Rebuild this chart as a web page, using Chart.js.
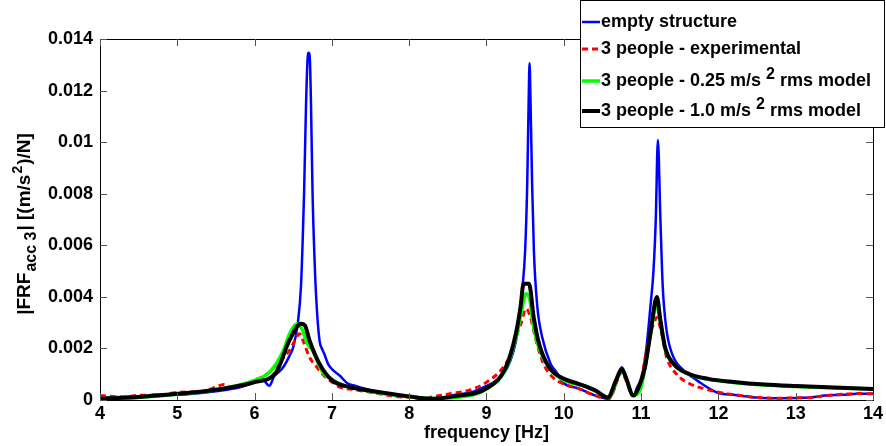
<!DOCTYPE html>
<html><head><meta charset="utf-8">
<script src="https://cdn.jsdelivr.net/npm/chart.js@4/dist/chart.umd.min.js"></script>
<style>html,body{margin:0;padding:0;background:#fff}</style>
</head><body>
<canvas id="c" width="886" height="446"></canvas>
<script>
// ---------- DATA ----------
const xTickLabels = ['4','5','6','7','8','9','10','11','12','13','14'];
const yTickLabels = ['0','0.002','0.004','0.006','0.008','0.01','0.012','0.014'];

const emptyFreq = [4.0,4.3,4.6,4.7,5.0,5.3,5.6,5.8,6.0,6.1,6.19,6.25,6.3,6.37,6.45,6.5,6.56,6.6,6.62,6.64,6.665,6.685,6.70,6.715,6.73,6.75,6.775,6.80,6.84,6.87,6.9,6.95,7.0,7.1,7.2,7.3,7.5,7.8,8.0,8.2,8.4,8.6,8.8,9.0,9.1,9.2,9.27,9.35,9.4,9.46,9.5,9.527,9.545,9.557,9.57,9.59,9.613,9.655,9.72,9.83,9.9,10.0,10.2,10.4,10.58,10.65,10.7,10.75,10.8,10.85,10.9,10.95,11.01,11.07,11.12,11.16,11.19,11.217,11.25,11.28,11.325,11.4,11.55,11.68,11.8,12.0,12.2,12.43,12.7,13.0,13.2,13.38,13.6,13.8,14.0];
const emptyVal  = [0.0001,0.00012,0.00015,0.0002,0.0002,0.00027,0.00038,0.00048,0.00068,0.0008,0.00055,0.0009,0.00105,0.00127,0.0017,0.00205,0.003,0.0044,0.006,0.008,0.0114,0.0132,0.01347,0.0132,0.0114,0.008,0.0055,0.0038,0.0023,0.002,0.0018,0.0014,0.0012,0.00095,0.00065,0.00055,0.00038,0.00022,0.00012,0.00005,0.00008,0.0002,0.0003,0.00055,0.0007,0.00095,0.00125,0.0019,0.0026,0.0042,0.0058,0.0084,0.0115,0.01306,0.0115,0.0084,0.0058,0.0037,0.00244,0.0014,0.0011,0.00065,0.00044,0.00018,0.00005,0.0004,0.0009,0.00127,0.0009,0.0004,0.00017,0.0005,0.0009,0.00205,0.0036,0.005,0.007,0.01008,0.007,0.0044,0.0028,0.0018,0.00115,0.00085,0.0006,0.00027,0.0002,0.00011,0.00007,0.00008,0.0001,0.00017,0.0002,0.00024,0.00024];

const expFreq = [4.0,4.3,4.5,4.8,5.0,5.3,5.5,5.6,5.7,5.9,6.0,6.1,6.2,6.3,6.45,6.52,6.58,6.64,6.71,6.8,6.88,7.0,7.1,7.3,7.5,7.8,8.0,8.2,8.4,8.56,8.8,9.0,9.2,9.3,9.38,9.45,9.51,9.56,9.63,9.7,9.76,9.85,9.94,10.19,10.41,10.58,10.7,10.75,10.8,10.9,11.0,11.07,11.12,11.17,11.2,11.25,11.33,11.46,11.63,11.8,12.0,12.3,12.5,12.77,13.0,13.2,13.4,13.6,13.8,14.0];
const expVal  = [0.00017,0.00012,0.00018,0.0002,0.0003,0.00032,0.0005,0.0006,0.0005,0.0006,0.00076,0.0009,0.0011,0.0014,0.00192,0.0023,0.00257,0.0022,0.00166,0.0013,0.001,0.0007,0.0005,0.0004,0.0003,0.00015,0.0001,0.00008,0.00018,0.00026,0.0004,0.00069,0.0012,0.0017,0.00244,0.003,0.00354,0.0033,0.00244,0.0017,0.00127,0.0009,0.0007,0.00044,0.00017,0.00005,0.0008,0.0011,0.0008,0.00017,0.0008,0.0019,0.0026,0.003,0.0032,0.0028,0.00166,0.001,0.00063,0.00045,0.0003,0.00017,0.0001,0.00007,0.00008,0.0001,0.00017,0.00022,0.00025,0.00024];

const m025Freq = [4.0,4.5,5.0,5.5,6.0,6.2,6.37,6.45,6.52,6.56,6.62,6.68,6.75,6.88,7.0,7.1,7.3,7.5,8.0,8.3,8.6,9.0,9.25,9.38,9.45,9.51,9.56,9.6,9.68,9.81,9.98,10.32,10.58,10.7,10.75,10.8,10.9,11.0,11.05,11.12,11.2,11.25,11.31,11.42,11.63,11.87,12.2,12.6,13.0,13.5,14.0];
const m025Val  = [0.00005,0.0001,0.00022,0.0004,0.00076,0.0011,0.0019,0.00255,0.0029,0.00296,0.0027,0.0022,0.00192,0.00108,0.0008,0.00063,0.00045,0.00033,0.00013,0.00006,0.0001,0.00043,0.0012,0.0024,0.0034,0.00412,0.0039,0.003,0.002,0.00125,0.0008,0.0005,0.0001,0.0009,0.00118,0.0009,0.00018,0.0005,0.00125,0.0025,0.0037,0.003,0.002,0.0014,0.00098,0.0008,0.00068,0.00058,0.00052,0.00047,0.00043];

const m10Freq = [4.0,4.5,5.0,5.5,6.0,6.28,6.45,6.6,6.65,6.71,6.84,7.0,7.23,7.48,8.0,8.26,8.6,9.0,9.25,9.38,9.44,9.48,9.55,9.61,9.68,9.81,9.98,10.19,10.41,10.57,10.68,10.75,10.8,10.9,10.97,11.05,11.12,11.204,11.25,11.31,11.42,11.63,11.87,12.2,12.6,13.0,13.5,14.0];
const m10Val  = [0.00005,0.00012,0.00024,0.0004,0.00069,0.00108,0.00231,0.00296,0.0029,0.00231,0.0014,0.00077,0.0005,0.00037,0.00014,0.00005,0.00015,0.00045,0.00127,0.00257,0.0036,0.00451,0.00451,0.00322,0.00218,0.00127,0.00085,0.00063,0.00037,0.0001,0.0008,0.00121,0.0009,0.00017,0.0005,0.00127,0.00257,0.00399,0.00309,0.00205,0.0014,0.001,0.00082,0.0007,0.0006,0.00054,0.00048,0.00043];

const seriesLabels = ['empty structure','3 people - experimental','3 people - 0.25 m/s\u00B2 rms model','3 people - 1.0 m/s\u00B2 rms model'];
const yTitleParts = [['|FRF','n'],['acc 3','sub'],['| [(m/s','n'],['2','sup'],[')/N]','n']];
const xTitle = 'frequency [Hz]';

// ---------- BUILD ----------
const pts = (f, v) => f.map((x, i) => ({x: x, y: v[i]}));
const FONT = '"Liberation Sans", Arial, Helvetica, sans-serif';

const boxPlugin = {
  id: 'matlabBox',
  afterDatasetsDraw(chart) {
    const {ctx, chartArea: a, scales} = chart;
    ctx.save();
    ctx.strokeStyle = '#000'; ctx.lineWidth = 1;
    ctx.strokeRect(Math.round(a.left) + 0.5, Math.round(a.top) + 0.5, Math.round(a.right - a.left), Math.round(a.bottom - a.top));
    ctx.strokeStyle = '#555';
    const tl = 7;
    scales.x.ticks.forEach(t => {
      const px = Math.round(scales.x.getPixelForValue(t.value)) + 0.5;
      ctx.beginPath();
      ctx.moveTo(px, a.bottom); ctx.lineTo(px, a.bottom - tl);
      ctx.moveTo(px, a.top); ctx.lineTo(px, a.top + tl);
      ctx.stroke();
    });
    scales.y.ticks.forEach(t => {
      const py = Math.round(scales.y.getPixelForValue(t.value)) + 0.5;
      ctx.beginPath();
      ctx.moveTo(a.left, py); ctx.lineTo(a.left + tl, py);
      ctx.moveTo(a.right, py); ctx.lineTo(a.right - tl, py);
      ctx.stroke();
    });
    ctx.restore();
  }
};

const yTitlePlugin = {
  id: 'yTitle',
  afterDraw(chart) {
    const ctx = chart.ctx;
    const a = chart.chartArea;
    const fonts = {n: 'bold 19px ' + FONT, sub: 'bold 16px ' + FONT, sup: 'bold 14px ' + FONT};
    const shift = {n: 0, sub: 7, sup: -7};
    ctx.save();
    let total = 0;
    const widths = yTitleParts.map(p => { ctx.font = fonts[p[1]]; const w = ctx.measureText(p[0]).width; total += w + 1; return w; });
    const cy = (a.top + a.bottom) / 2 + 4;
    ctx.translate(25, cy);
    ctx.rotate(-Math.PI / 2);
    ctx.fillStyle = '#000';
    ctx.textBaseline = 'middle';
    ctx.textAlign = 'left';
    let x = -total / 2;
    yTitleParts.forEach((p, i) => {
      ctx.font = fonts[p[1]];
      ctx.fillText(p[0], x, shift[p[1]]);
      x += widths[i] + 1;
    });
    ctx.restore();
  }
};

const legendPlugin = {
  id: 'matlabLegend',
  afterDraw(chart) {
    const ctx = chart.ctx;
    const L = 580.5, T = 0.5, R = 884.5, B = 127.5;
    ctx.save();
    ctx.fillStyle = '#fff';
    ctx.fillRect(L, T, R - L, B - T);
    ctx.strokeStyle = '#000'; ctx.lineWidth = 1;
    ctx.strokeRect(L, T, R - L, B - T);
    const rows = [22, 49, 81, 111];
    chart.data.datasets.forEach((ds, i) => {
      const y = rows[i];
      ctx.strokeStyle = ds.borderColor;
      ctx.lineWidth = ds.borderWidth;
      ctx.setLineDash(ds.borderDash || []);
      ctx.beginPath(); ctx.moveTo(582, y); ctx.lineTo(600, y); ctx.stroke();
      ctx.setLineDash([]);
      ctx.fillStyle = '#000';
      ctx.textBaseline = 'middle';
      ctx.textAlign = 'left';
      const parts = ds.label.split('\u00B2');
      let x = 601;
      ctx.font = 'bold 18px ' + FONT;
      if (parts.length === 1) {
        ctx.fillText(parts[0], x, y);
      } else {
        const p0 = parts[0] + ' ';
        ctx.fillText(p0, x, y); x += ctx.measureText(p0).width;
        ctx.font = 'bold 16px ' + FONT;
        ctx.fillText('2', x, y - 6); x += ctx.measureText('2').width;
        ctx.font = 'bold 18px ' + FONT;
        ctx.fillText(' ' + parts[1].trim(), x, y);
      }
    });
    ctx.restore();
  }
};

new Chart(document.getElementById('c'), {
  type: 'line',
  data: {
    datasets: [
      {label: seriesLabels[0], data: pts(emptyFreq, emptyVal), borderColor: '#0000ff', borderWidth: 2.5, order: 4},
      {label: seriesLabels[1], data: pts(expFreq, expVal), borderColor: '#ff0000', borderWidth: 3, borderDash: [6, 4], order: 3},
      {label: seriesLabels[2], data: pts(m025Freq, m025Val), borderColor: '#00ff00', borderWidth: 3.5, order: 2},
      {label: seriesLabels[3], data: pts(m10Freq, m10Val), borderColor: '#000000', borderWidth: 4, order: 1}
    ]
  },
  options: {
    responsive: false,
    animation: false,
    devicePixelRatio: 1,
    elements: {point: {radius: 0, hoverRadius: 0}, line: {cubicInterpolationMode: 'monotone', fill: false}},
    layout: {padding: {top: 39, right: 11, left: 0, bottom: 0}},
    plugins: {legend: {display: false}, tooltip: {enabled: false}},
    scales: {
      x: {
        type: 'linear', min: 4, max: 14,
        afterFit: s => { s.height = 46; },
        afterBuildTicks: s => { s.ticks = xTickLabels.map(v => ({value: +v})); },
        ticks: {autoSkip: false, maxRotation: 0, padding: 3, color: '#000', font: {family: FONT, size: 18, weight: 'bold'},
          callback: (v) => xTickLabels.find(t => +t === v) ?? ''},
        grid: {display: false, drawTicks: false},
        border: {display: false},
        title: {display: true, text: xTitle, color: '#000', font: {family: FONT, size: 18, weight: 'bold'}, padding: {top: 0, bottom: 2}}
      },
      y: {
        type: 'linear', min: 0, max: 0.014,
        afterFit: s => { s.width = 100; },
        afterBuildTicks: s => { s.ticks = yTickLabels.map(v => ({value: +v})); },
        ticks: {autoSkip: false, padding: 7, color: '#000', font: {family: FONT, size: 18, weight: 'bold'},
          callback: (v) => yTickLabels.find(t => Math.abs(+t - v) < 1e-9) ?? ''},
        grid: {display: false, drawTicks: false},
        border: {display: false}
      }
    }
  },
  plugins: [boxPlugin, yTitlePlugin, legendPlugin]
});
</script>
</body></html>
